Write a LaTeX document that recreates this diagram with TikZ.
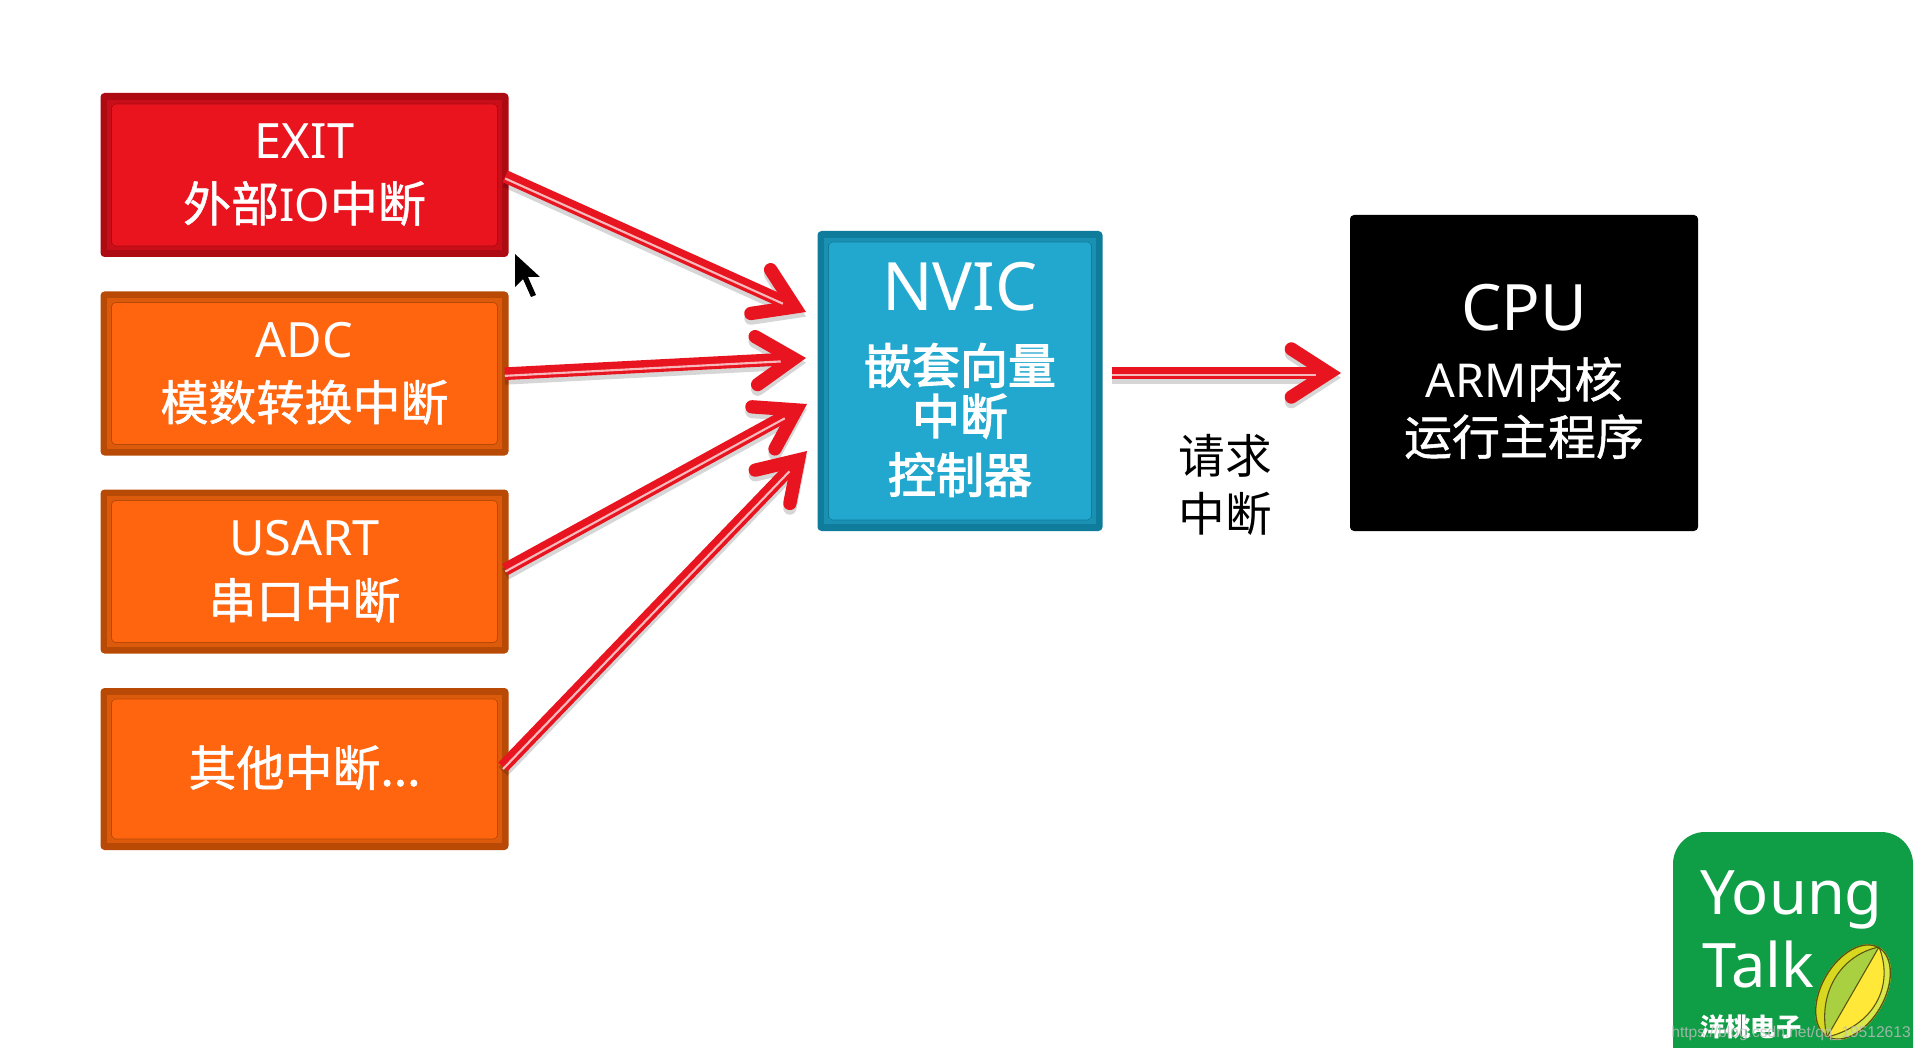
\documentclass[tikz,border=0pt]{standalone}
\usepackage{fontspec}
\setmainfont{Noto Sans CJK SC}
\newfontfamily\cn[FakeBold=1]{Noto Sans CJK SC}
\newfontfamily\cnb[FakeBold=2.5]{Noto Sans CJK SC}
\newfontfamily\lat{Noto Sans}
\newfontfamily\wmfont{Liberation Sans}
\usetikzlibrary{arrows.meta,calc,shapes.geometric}
\definecolor{redfill}{HTML}{EA141F}
\definecolor{reddark}{HTML}{AE0A12}
\definecolor{redmid}{HTML}{C80E18}
\definecolor{orfill}{HTML}{FF640F}
\definecolor{ordark}{HTML}{B94A06}
\definecolor{ormid}{HTML}{DC5A0C}
\definecolor{bluefill}{HTML}{22A8CE}
\definecolor{bluedark}{HTML}{0F7C9C}
\definecolor{bluemid}{HTML}{1A90B2}
\definecolor{arrowred}{HTML}{E8141F}
\definecolor{logogreen}{HTML}{0F9D45}
\definecolor{fruitline}{HTML}{5A5410}
\definecolor{fruitleft}{HTML}{D8D820}
\definecolor{fruitgreen}{HTML}{A8D040}
\definecolor{fruityellow}{HTML}{FFE838}
\definecolor{fruitright}{HTML}{D8E84A}
\newcommand{\latbox}{\lat\fontsize{36.5}{45}\selectfont}
\tikzset{
  x=0.75pt,y=-0.75pt,
  tile/.style n args={3}{rectangle,rounded corners=3pt,fill=#1,draw=none,text=white,align=center,inner sep=0pt,
    path picture={
      \draw[#2,line width=3.2pt,fill=#3,rounded corners=0pt]
        ($(path picture bounding box.south west)+(9,-9)$) rectangle ($(path picture bounding box.north east)+(-9,9)$);
      \draw[#1,line width=.6pt]
        ($(path picture bounding box.south west)+(11,-11)$) rectangle ($(path picture bounding box.north east)+(-11,11)$);
    }},
  srcsize/.style={minimum width=408*0.75pt,minimum height=164*0.75pt},
  redtile/.style={tile={reddark}{redmid}{redfill},srcsize},
  ortile/.style={tile={ordark}{ormid}{orfill},srcsize},
  srctext/.style={font=\fontsize{36}{45}\selectfont},
  shaft/.style={arrowred,line width=9.5pt,
    -{Straight Barb[length=28pt,width=36pt,line width=10pt,line cap=round,line join=miter]}},
  shaftshadow/.style={black,opacity=.16,line width=9.5pt,
    -{Straight Barb[length=28pt,width=36pt,line width=10pt,line cap=round,line join=miter]}},
  shaftcore/.style={white!70!arrowred,line width=1.6pt,shorten >=19pt},
}
\newcommand{\connector}[2]{%
  \draw[shaftshadow,transform canvas={yshift=-3.5pt},shorten <=-3pt] (#1) -- (#2);
  \draw[shaft,shorten <=-3pt] (#1) -- (#2);
  \draw[shaftcore,shorten <=-3pt,transform canvas={yshift=-1.6pt}] (#1) -- (#2);
}
\begin{document}
\begin{tikzpicture}
\path[use as bounding box,fill=white] (0,0) rectangle (1920,1048);

\node[redtile,srctext] (exit) at (304.5,175) {\raisebox{2pt}{\latbox EXIT}\\{\cn 外部}{\lat\fontsize{34}{45}\selectfont IO}{\cn 中断}};
\node[ortile,srctext] (adc) at (304.5,373.5) {\raisebox{2pt}{\latbox ADC}\\{\cn 模数转换中断}};
\node[ortile,srctext] (usart) at (304.5,571.5) {\raisebox{2pt}{\latbox USART}\\{\cn 串口中断}};
\node[ortile,srctext,minimum height=162*0.75pt] (other) at (304.5,769) {\raisebox{5pt}{\cn 其他中断...}};

\node[tile={bluedark}{bluemid}{bluefill},minimum width=285*0.75pt,minimum height=300*0.75pt] (nvic) at (960,381) {};
\node[text=white,font=\lat\fontsize{50}{60}\selectfont] (nvicname) at (960,287) {NVIC};
\node[text=white,font=\fontsize{36}{38}\selectfont,align=center] (nvicdesc) at (960,420)
  {{\cnb 嵌套向量}\\{\cnb 中断}\\[6pt]{\cnb 控制器}};

\node[fill=black,rounded corners=3pt,minimum width=348*0.75pt,minimum height=316*0.75pt,inner sep=0pt] (cpu) at (1524,373) {};
\node[text=white,font=\lat\fontsize{48}{60}\selectfont] (cpuname) at (1524,308) {CPU};
\node[text=white,font=\fontsize{36}{43}\selectfont,align=center] (cpudesc) at (1524,408) {{\lat\fontsize{35}{43}\selectfont ARM}{\cn 内核}\\{\cn 运行主程序}};

\node[text=black,font=\fontsize{35}{44}\selectfont,align=center] (req) at (1225,485) {请求\\中断};

\coordinate (tipA) at (806,312);
\coordinate (tipB) at (806,358);
\coordinate (tipC) at (807,404);
\coordinate (tipD) at (807,451);
\coordinate (tipE) at (1341,373);
\coordinate (srcE) at ($(nvic.east)+(13,-8)$);

\connector{$(exit.east)+(0,3)$}{tipA}
\connector{adc.east}{tipB}
\connector{$(usart.east)+(0,-4)$}{tipC}
\connector{$(other.east)+(-3,-5)$}{tipD}
\connector{srcE}{tipE}

% mouse cursor
\fill[black] (515,254) -- (515,287) -- (523,279) -- (531,297) -- (536,295) -- (528,277) -- (540,277) -- cycle;

% logo
\path[fill=logogreen,rounded corners=24pt] (1673,1100) -- (1673,832) -- (1913,832) -- (1913,1100) -- cycle;
\node[text=white,font=\lat\fontsize{46}{46}\selectfont,anchor=base west,inner sep=0pt] (young) at (1700,914) {Young};
\node[text=white,font=\lat\fontsize{46}{46}\selectfont,anchor=base west,inner sep=0pt] (talk) at (1702,987) {Talk};
\node[text=white,font=\fontsize{19}{19}\selectfont\bfseries,anchor=base west,inner sep=0pt] (cnname) at (1700,1036) {洋桃电子};
\begin{scope}[shift={(1853,992)},rotate=60]
  \clip (0,0) ellipse [x radius=52,y radius=32];
  \fill[fruitleft] (-60,-40) rectangle (60,40);
  \fill[fruitgreen] (-52,0) .. controls (-20,-30) and (25,-30) .. (52,0) -- cycle;
  \fill[fruitright] (-52,0) .. controls (-20,34) and (25,34) .. (52,0) -- (60,40) -- (-60,40) -- cycle;
  \fill[fruityellow] (-52,0) .. controls (-20,34) and (25,34) .. (52,0) -- cycle;
  \draw[fruitline,line width=.8pt] (-52,0) .. controls (-20,-30) and (25,-30) .. (52,0);
  \draw[fruitline,line width=.8pt] (-52,0) -- (52,0);
  \draw[fruitline,line width=.8pt] (-52,0) .. controls (-20,34) and (25,34) .. (52,0);
  \draw[fruitline,line width=2pt] (0,0) ellipse [x radius=52,y radius=32];
\end{scope}
\node[text=gray!50!white,opacity=.8,font=\wmfont\fontsize{11.7}{12}\selectfont,anchor=base east,inner sep=0pt] (mark) at (1911,1037) {https://blog.csdn.net/qq\_19512613};
\end{tikzpicture}
\end{document}
